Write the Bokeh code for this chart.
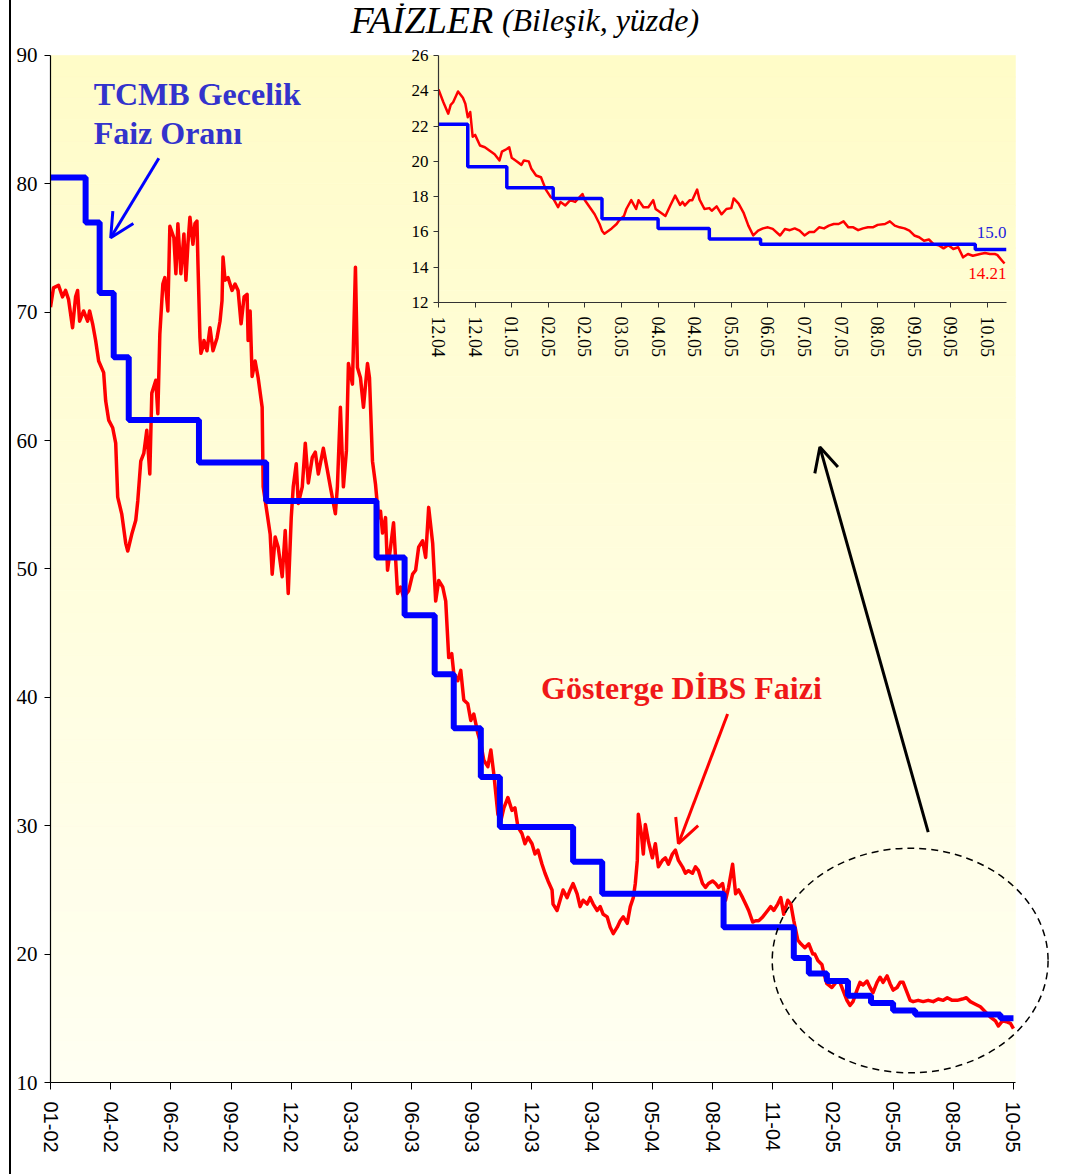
from bokeh.plotting import figure
from bokeh.models import Range1d, FixedTicker, Label, Arrow, OpenHead, Div
from bokeh.layouts import column, row
from bokeh.embed import file_html
from bokeh.resources import INLINE

# ---------------- main chart data (trading-day index, % compound) ----------------
main_days = [0, 3, 8, 12, 15, 18, 22, 25, 27, 29, 33, 37, 39, 42, 45, 48, 53, 55, 58, 62,
             65, 67, 71, 75, 77, 81, 85, 87, 90, 93, 96, 99, 101, 105, 107, 109, 111, 112, 114, 117,
             119, 123, 125, 127, 130, 133, 135, 137, 139, 142, 144, 146, 147, 149, 150, 152, 153, 156, 159, 162,
             166, 169, 171, 172, 174, 177, 181, 184, 187, 190, 193, 196, 197, 199, 201, 204, 207, 211, 212, 216,
             219, 221, 224, 227, 231, 234, 237, 240, 242, 245, 247, 251, 254, 257, 261, 264, 267, 272, 276, 279,
             284, 286, 289, 292, 295, 297, 301, 304, 306, 309, 312, 316, 318, 321, 324, 327, 329, 331, 334, 336,
             339, 342, 346, 349, 352, 357, 361, 364, 367, 371, 374, 377, 381, 384, 387, 391, 394, 397, 400, 402,
             406, 409, 412, 416, 419, 422, 426, 429, 432, 436, 439, 442, 446, 449, 452, 456, 460, 463, 466, 470,
             473, 476, 480, 483, 486, 490, 493, 496, 500, 501, 505, 508, 511, 515, 518, 521, 525, 528, 531, 535,
             538, 541, 545, 548, 551, 555, 558, 561, 565, 568, 571, 575, 578, 581, 583, 585, 586, 589, 591, 593,
             596, 600, 603, 606, 610, 613, 616, 620, 623, 626, 630, 633, 636, 640, 643, 646, 650, 653, 656, 660,
             663, 666, 670, 673, 676, 680, 683, 686, 690, 693, 696, 700, 703, 706, 710, 715, 718, 721, 725, 728,
             731, 735, 738, 741, 745, 748, 752, 756, 760, 762, 765, 769, 771, 774, 779, 784, 787, 790, 794, 797,
             800, 804, 807, 810, 814, 817, 820, 824, 827, 830, 834, 837, 840, 844, 847, 850, 854, 857, 860, 865,
             870, 875, 880, 885, 890, 894, 899, 904, 909, 913, 917, 922, 927, 932, 937, 942, 945, 949, 954, 957,
             960]
dibs_rate = [70.4, 71.9, 72.1, 71.2, 71.7, 71.0, 68.8, 71.2, 71.7, 69.3, 70.1, 69.3, 70.1, 69.1, 67.8, 66.2, 65.3, 63.1, 61.6, 61.0,
             59.8, 55.6, 54.3, 52.0, 51.4, 52.7, 53.8, 55.3, 58.4, 59.0, 60.8, 57.4, 63.7, 64.7, 62.1, 68.3, 70.9, 72.2, 72.7, 70.1,
             76.7, 75.8, 73.0, 76.9, 73.0, 76.1, 72.5, 75.3, 77.4, 75.3, 76.9, 77.1, 73.8, 68.0, 66.8, 67.3, 67.8, 67.0, 68.8, 67.0,
             68.0, 69.3, 70.9, 74.3, 72.5, 72.7, 71.7, 72.2, 71.7, 69.1, 71.2, 71.4, 67.8, 70.1, 65.0, 66.2, 64.9, 62.6, 56.4, 54.3,
             52.7, 49.6, 52.5, 51.7, 49.4, 53.0, 48.1, 54.0, 56.4, 58.2, 55.1, 56.4, 59.8, 56.7, 58.7, 59.1, 57.4, 59.4, 57.7, 56.4,
             54.3, 56.4, 62.6, 56.4, 59.2, 66.0, 64.4, 73.5, 65.7, 64.9, 62.6, 66.0, 64.9, 58.4, 56.6, 54.0, 54.5, 52.8, 54.0, 49.9,
             51.7, 53.6, 48.1, 48.6, 47.8, 48.3, 49.6, 49.9, 51.7, 52.2, 50.9, 54.8, 52.0, 47.5, 49.1, 48.6, 47.5, 43.1, 43.4, 41.9,
             41.3, 42.1, 39.8, 39.5, 38.2, 38.7, 37.2, 36.4, 35.1, 34.6, 35.9, 34.0, 30.9, 30.4, 31.4, 32.2, 31.2, 31.4, 29.9, 29.4,
             28.6, 29.1, 28.6, 27.8, 28.1, 27.0, 26.3, 25.7, 25.0, 23.9, 23.4, 24.2, 25.0, 24.4, 25.0, 25.5, 24.7, 23.7, 24.2, 23.9,
             24.4, 23.9, 23.4, 23.7, 23.1, 22.9, 22.1, 21.6, 22.1, 22.6, 22.9, 22.4, 23.7, 24.4, 25.5, 27.3, 30.9, 29.4, 27.8, 30.1,
             28.8, 27.5, 28.6, 26.8, 27.3, 27.5, 27.0, 27.8, 28.1, 27.3, 26.8, 26.3, 26.5, 26.3, 26.8, 26.5, 25.5, 25.2, 25.5, 25.7,
             25.5, 25.2, 25.5, 24.2, 25.2, 27.0, 24.7, 25.0, 24.4, 23.9, 23.4, 22.5, 22.6, 22.6, 22.9, 23.4, 23.7, 23.4, 23.9, 24.4,
             23.1, 24.2, 23.9, 22.6, 21.1, 20.8, 20.5, 20.8, 20.0, 20.0, 19.5, 19.2, 18.5, 17.7, 17.4, 17.9, 17.8, 17.2, 16.4, 16.0,
             16.3, 17.2, 17.8, 17.6, 17.9, 17.4, 17.0, 17.8, 18.2, 17.8, 18.3, 17.7, 17.2, 17.4, 17.8, 17.8, 17.0, 16.4, 16.3, 16.4,
             16.3, 16.4, 16.3, 16.5, 16.4, 16.6, 16.4, 16.4, 16.5, 16.6, 16.3, 16.1, 15.9, 15.5, 15.1, 14.8, 14.4, 14.8, 14.7, 14.6,
             14.2]

policy_days = [0, 35, 49, 63, 78, 148, 215, 325, 353, 383, 402, 429, 448, 521, 550, 671,
               741, 756, 774, 795, 818, 840, 862, 947]
policy_rate = [80.5, 77.0, 71.5, 66.5, 61.6, 58.3, 55.3, 50.9, 46.4, 41.8, 37.6, 33.8, 29.9, 27.2, 24.7, 22.1,
               19.7, 18.5, 17.9, 16.75, 16.2, 15.6, 15.3, 15.0]
main_end_day = 960
main_tick_step = 60
main_tick_labels = ["01-02", "04-02", "06-02", "09-02", "12-02", "03-03", "06-03", "09-03", "12-03",
                    "03-04", "05-04", "08-04", "11-04", "02-05", "05-05", "08-05", "10-05"]
main_y_ticks = [10, 20, 30, 40, 50, 60, 70, 80, 90]

# ---------------- inset chart data ----------------
inset_days = [0, 2, 4, 5, 6, 8, 10, 11, 12, 13, 14, 15, 17, 19, 21, 23, 25, 26, 28, 29,
              30, 32, 34, 35, 37, 38, 40, 42, 44, 46, 47, 49, 50, 52, 54, 56, 59, 60, 62, 64,
              66, 67, 68, 71, 73, 74, 76, 77, 79, 81, 82, 84, 86, 88, 89, 91, 93, 95, 97, 99,
              100, 101, 103, 104, 106, 107, 109, 111, 112, 114, 116, 118, 120, 121, 123, 125, 127, 129, 131, 133,
              135, 137, 140, 142, 144, 146, 148, 150, 152, 154, 156, 158, 160, 162, 164, 166, 168, 170, 172, 174,
              176, 178, 180, 183, 185, 187, 189, 191, 193, 195, 197, 199, 201, 203, 205, 207, 209, 211, 213, 215,
              217, 219, 222, 224, 226, 228, 229, 231, 232]
inset_dibs = [24.07, 23.35, 22.7, 23.2, 23.35, 23.96, 23.6, 23.26, 22.5, 22.8, 21.4, 21.5, 20.9, 20.8, 20.6, 20.4, 20.05, 20.55, 20.7, 20.8,
              20.2, 20.0, 19.8, 20.05, 20.0, 19.6, 19.2, 19.1, 18.4, 17.97, 17.9, 17.4, 17.7, 17.5, 17.8, 17.7, 18.15, 17.8, 17.4, 17.0,
              16.45, 16.07, 15.9, 16.2, 16.45, 16.65, 16.9, 17.3, 17.8, 17.3, 17.8, 17.4, 17.4, 17.8, 17.3, 17.1, 16.9, 17.5, 18.06, 17.53,
              17.7, 17.5, 17.8, 17.8, 18.4, 17.83, 17.3, 17.35, 17.2, 17.45, 17.0, 17.3, 17.35, 17.9, 17.6, 17.1, 16.36, 15.8, 16.07, 16.2,
              16.26, 16.17, 15.8, 16.17, 16.1, 16.2, 16.07, 15.8, 16.0, 16.0, 16.26, 16.2, 16.36, 16.45, 16.45, 16.6, 16.26, 16.26, 16.1, 16.2,
              16.26, 16.26, 16.4, 16.45, 16.6, 16.36, 16.26, 16.2, 16.07, 15.8, 15.7, 15.5, 15.57, 15.3, 15.25, 15.07, 15.25, 15.03, 15.13, 14.56,
              14.75, 14.65, 14.75, 14.8, 14.75, 14.75, 14.7, 14.37, 14.21]
inset_policy_days = [0, 12, 28, 47, 67, 90, 111, 132, 220]
inset_policy_rate = [22.1, 19.7, 18.5, 17.9, 16.75, 16.2, 15.6, 15.3, 15.0]
inset_end_day = 232.8
inset_tick_step = 15
inset_tick_labels = ["12.04", "12.04", "01.05", "02.05", "02.05", "03.05", "04.05", "04.05",
                     "05.05", "06.05", "07.05", "07.05", "08.05", "09.05", "09.05", "10.05"]
inset_y_ticks = [12, 14, 16, 18, 20, 22, 24, 26]
last_policy_label = "15.0"
last_dibs_label = "14.21"

RED = "#FF0000"
BLUE = "#0000FF"

# ---------------- main figure ----------------
p = figure(width=1050, height=1172, x_range=Range1d(0, 1001.9), y_range=Range1d(10, 94.05),
           output_backend="svg", toolbar_location=None,
           min_border_left=38, min_border_right=7, min_border_top=3, min_border_bottom=90)
p.outline_line_color = None
p.grid.visible = False
p.background_fill_color = "white"
p.border_fill_color = "white"

# light-yellow vertical gradient plot background
n_bands = 48
ymin, ymax = 10.0, 90.0
bottoms, tops, cols = [], [], []
for i in range(n_bands):
    b = ymin + (ymax - ymin) * i / n_bands
    t = ymin + (ymax - ymin) * (i + 1) / n_bands
    f = (i + 0.5) / n_bands
    g = round(255 + (252 - 255) * f)
    bl = round(242 + (200 - 242) * f)
    bottoms.append(b)
    tops.append(t)
    cols.append("#%02X%02X%02X" % (255, g, bl))
p.quad(left=0, right=962, bottom=bottoms, top=tops, fill_color=cols, line_color=cols, line_width=0.6)

p.line(main_days, dibs_rate, line_color=RED, line_width=3.5, line_join="round")
p.step(policy_days + [main_end_day], policy_rate + [policy_rate[-1]], mode="after",
       line_color=BLUE, line_width=6)

mt = [i * main_tick_step for i in range(len(main_tick_labels))]
p.xaxis.ticker = FixedTicker(ticks=mt)
p.xaxis.major_label_overrides = {t: lab for t, lab in zip(mt, main_tick_labels)}
p.xaxis.major_label_orientation = "vertical"
p.xaxis.bounds = (0, 962)
p.xaxis.major_label_text_font = "Liberation Sans"
p.xaxis.major_label_text_font_size = "20px"
p.xaxis.major_label_standoff = 12
p.yaxis.ticker = FixedTicker(ticks=main_y_ticks)
p.yaxis.bounds = (10, 90)
p.yaxis.major_label_text_font = "Liberation Serif"
p.yaxis.major_label_text_font_size = "21px"
p.yaxis.major_label_standoff = 7
for ax in (p.xaxis, p.yaxis):
    ax.axis_line_color = "black"
    ax.axis_line_width = 1.2
    ax.major_tick_line_color = "black"
    ax.major_tick_in = 0
    ax.minor_tick_line_color = None
    ax.major_label_text_color = "black"
p.xaxis.major_tick_out = 7
p.yaxis.major_tick_out = 6

# title
p.add_layout(Label(x=299, y=92.75, text="FAİZLER", text_font="Liberation Serif",
                   text_font_style="italic", text_font_size="38px", text_color="black",
                   text_baseline="alphabetic"))
p.add_layout(Label(x=450, y=92.75, text="(Bileşik, yüzde)", text_font="Liberation Serif",
                   text_font_style="italic", text_font_size="32px", text_color="black",
                   text_baseline="alphabetic"))

# annotations
p.add_layout(Label(x=43, y=87.0, text="TCMB Gecelik", text_font="Liberation Serif",
                   text_font_style="bold", text_font_size="32px", text_color="#3333CC",
                   text_baseline="alphabetic"))
p.add_layout(Label(x=43, y=84.0, text="Faiz Oranı", text_font="Liberation Serif",
                   text_font_style="bold", text_font_size="32px", text_color="#3333CC",
                   text_baseline="alphabetic"))
p.add_layout(Label(x=489, y=40.75, text="Gösterge DİBS Faizi", text_font="Liberation Serif",
                   text_font_style="bold", text_font_size="32px", text_color="#F01818",
                   text_baseline="alphabetic"))

p.add_layout(Arrow(end=OpenHead(size=24, line_color=BLUE, line_width=3),
                   x_start=108, y_start=82.0, x_end=60, y_end=75.8,
                   line_color=BLUE, line_width=3))
p.add_layout(Arrow(end=OpenHead(size=24, line_color=RED, line_width=3),
                   x_start=675, y_start=38.7, x_end=626, y_end=28.6,
                   line_color=RED, line_width=3))
p.add_layout(Arrow(end=OpenHead(size=24, line_color="black", line_width=3),
                   x_start=875, y_start=29.5, x_end=767, y_end=59.5,
                   line_color="black", line_width=3))
p.ellipse(x=857, y=19.5, width=275, height=17.5, fill_alpha=0, line_color="black",
          line_width=1.5, line_dash="7 5")

# ---------------- inset figure ----------------
q = figure(width=636, height=327, x_range=Range1d(0, inset_end_day), y_range=Range1d(12, 26),
           output_backend="svg", toolbar_location=None,
           min_border_left=58, min_border_right=10, min_border_top=10, min_border_bottom=70)
q.background_fill_alpha = 0
q.border_fill_alpha = 0
q.outline_line_color = None
q.grid.visible = False
q.line(inset_days, inset_dibs, line_color=RED, line_width=2.5, line_join="round")
q.step(inset_policy_days + [inset_end_day], inset_policy_rate + [inset_policy_rate[-1]],
       mode="after", line_color=BLUE, line_width=3.5)

it = [i * inset_tick_step for i in range(len(inset_tick_labels))]
q.xaxis.ticker = FixedTicker(ticks=it)
q.xaxis.major_label_overrides = {t: lab for t, lab in zip(it, inset_tick_labels)}
q.xaxis.major_label_orientation = "vertical"
q.xaxis.bounds = (0, inset_end_day)
q.yaxis.ticker = FixedTicker(ticks=inset_y_ticks)
for ax in (q.xaxis, q.yaxis):
    ax.axis_line_color = "#333333"
    ax.axis_line_width = 1.2
    ax.major_tick_line_color = "#333333"
    ax.major_tick_in = 0
    ax.major_tick_out = 5
    ax.minor_tick_line_color = None
    ax.major_label_text_font = "Liberation Serif"
    ax.major_label_text_color = "black"
q.xaxis.major_label_text_font_size = "18px"
q.yaxis.major_label_text_font_size = "17px"
q.xaxis.major_label_standoff = 9
q.yaxis.major_label_standoff = 5

q.add_layout(Label(x=inset_end_day, y=15.95, text=last_policy_label, text_font="Liberation Serif",
                   text_font_size="17px", text_color="#2222DD", text_align="right",
                   text_baseline="alphabetic"))
q.add_layout(Label(x=inset_end_day, y=13.65, text=last_dibs_label, text_font="Liberation Serif",
                   text_font_size="17px", text_color=RED, text_align="right",
                   text_baseline="alphabetic"))

q.margin = (-1127, 0, 800, 380)

bar = Div(text='<div style="margin-left:9px;width:2px;height:1174px;background:#000000;"></div>',
          width=12, height=1172, margin=0)
layout = column(row(bar, p, spacing=0), q, spacing=0)

open("out.html", "w").write(file_html(layout, INLINE))
